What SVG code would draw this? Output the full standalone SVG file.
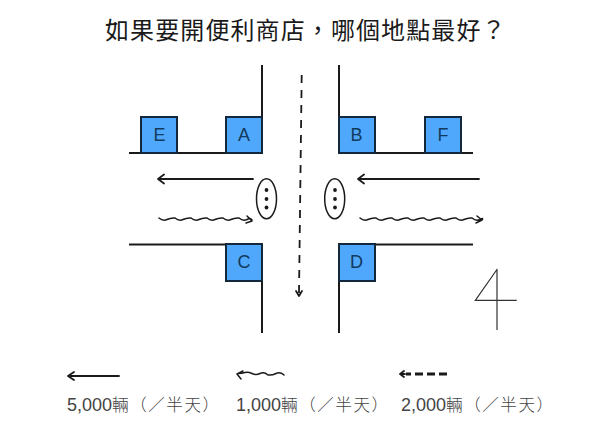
<svg xmlns="http://www.w3.org/2000/svg" width="600" height="434" viewBox="0 0 600 434">
<style>
.road{fill:none;stroke:#1a1a1a;stroke-width:2}
.box{fill:#4fa8fb;stroke:#14283c;stroke-width:2}
.lbl{font-family:"Liberation Sans",Arial,sans-serif;font-size:18px;fill:#123a5e;text-anchor:middle}
.a{fill:none;stroke:#1a1a1a;stroke-width:1.8;stroke-linecap:round;stroke-linejoin:round}
.w{fill:none;stroke:#1a1a1a;stroke-width:1.5;stroke-linecap:round;stroke-linejoin:round}
.d{fill:#1a1a1a}
.sig{fill:#fff;stroke:#1a1a1a;stroke-width:1.5}
.leg{font-family:"Liberation Sans","Noto Sans CJK TC",sans-serif;font-size:18px;fill:#444}
.cjk{font-family:"Noto Sans CJK TC",sans-serif;font-size:16.5px;font-weight:300;letter-spacing:1.6px}
</style>
<rect width="600" height="434" fill="#fff"/>
<text id="title" x="105" y="39" font-family="'Noto Sans CJK TC',sans-serif" font-size="24" font-weight="400" letter-spacing="1.100" fill="#1a1a1a">如果要開便利商店，哪個地點最好？</text>
<g id="roads">
<path class="road" d="M129 153H262V65"/>
<path class="road" d="M339 65V153H473"/>
<path class="road" d="M129 244.500H262V333"/>
<path class="road" d="M473 244.500H339V333"/>
</g>
<g id="node-e"><rect class="box" x="141" y="117" width="36" height="36"/><text class="lbl" x="159.500" y="141">E</text></g>
<g id="node-a"><rect class="box" x="226" y="117" width="36" height="36"/><text class="lbl" x="244" y="141">A</text></g>
<g id="node-b"><rect class="box" x="339" y="117" width="36" height="36"/><text class="lbl" x="356.500" y="141">B</text></g>
<g id="node-f"><rect class="box" x="425" y="117" width="36" height="36"/><text class="lbl" x="443" y="141">F</text></g>
<g id="node-c"><rect class="box" x="226" y="244" width="36" height="37"/><text class="lbl" x="244" y="268">C</text></g>
<g id="node-d"><rect class="box" x="339" y="244" width="36" height="37"/><text class="lbl" x="356.500" y="268">D</text></g>
<g id="signal-left"><ellipse class="sig" cx="266.500" cy="198.700" rx="10" ry="20"/><circle class="d" cx="266.500" cy="190" r="1.900"/><circle class="d" cx="266.500" cy="199" r="1.900"/><circle class="d" cx="266.500" cy="207.500" r="1.900"/></g>
<g id="signal-right"><ellipse class="sig" cx="334.700" cy="198.700" rx="10" ry="20"/><circle class="d" cx="335" cy="190" r="1.900"/><circle class="d" cx="335" cy="199" r="1.900"/><circle class="d" cx="335" cy="207.500" r="1.900"/></g>
<g id="connectors">
<path class="a" d="M253 179H158M164 174.500L158 179L164 183.500"/>
<path class="a" d="M479 179H358M364 174.500L358 179L364 183.500"/>
<path class="w" d="M159 218q4 3.500 8 1.500t8 -1.500q4 3.500 8 1.500t8 -1.500q4 3.500 8 1.500t8 -1.500q4 3.500 8 1.500t8 -1.500q4 3.500 8 1.500t8 -1.500q4 3.500 8 1.500t5 0.500M247 216L252 221L246 223"/>
<path class="w" d="M360 218q4 3.500 8 1.500t8 -1.500q4 3.500 8 1.500t8 -1.500q4 3.500 8 1.500t8 -1.500q4 3.500 8 1.500t8 -1.500q4 3.500 8 1.500t8 -1.500q4 3.500 8 1.500t8 -1.500q4 3.500 8 1.500t8 -1.500q4 3.500 8 1.500t2 0.500M477 216L482 220L476 223"/>
<path d="M301.700 75L299 293" fill="none" stroke="#1a1a1a" stroke-width="1.800" stroke-dasharray="8 7"/>
<path class="a" d="M296 291L299 296L302 291" stroke-width="1.500"/>
<path class="a" d="M119 376H68M74 372L68 376L74 380"/>
<path class="w" d="M284 375q-4 -3.500 -8 -1.500t-8 1.500q-4 -3.500 -8 -1.500t-8 0q-4 -2 -7 -1t-7 1M243 371L237 374L241 379" stroke-width="1.800"/>
<path d="M447 374H406" fill="none" stroke="#1a1a1a" stroke-width="3" stroke-dasharray="8 4"/>
<path class="a" d="M404 371L400 374L404 377M400 374H405" stroke-width="2.200"/>
</g>
<g id="numeral-4"><path d="M497.300 269L475.300 300.300H516.700M497 269V330" fill="none" stroke="#333" stroke-width="1.200"/></g>
<g id="legend">
<text class="leg" x="67" y="411">5,000<tspan class="cjk">輛（／半天）</tspan></text>
<text class="leg" x="236" y="411">1,000<tspan class="cjk">輛（／半天）</tspan></text>
<text class="leg" x="401" y="411">2,000<tspan class="cjk">輛（／半天）</tspan></text>
</g>
</svg>
